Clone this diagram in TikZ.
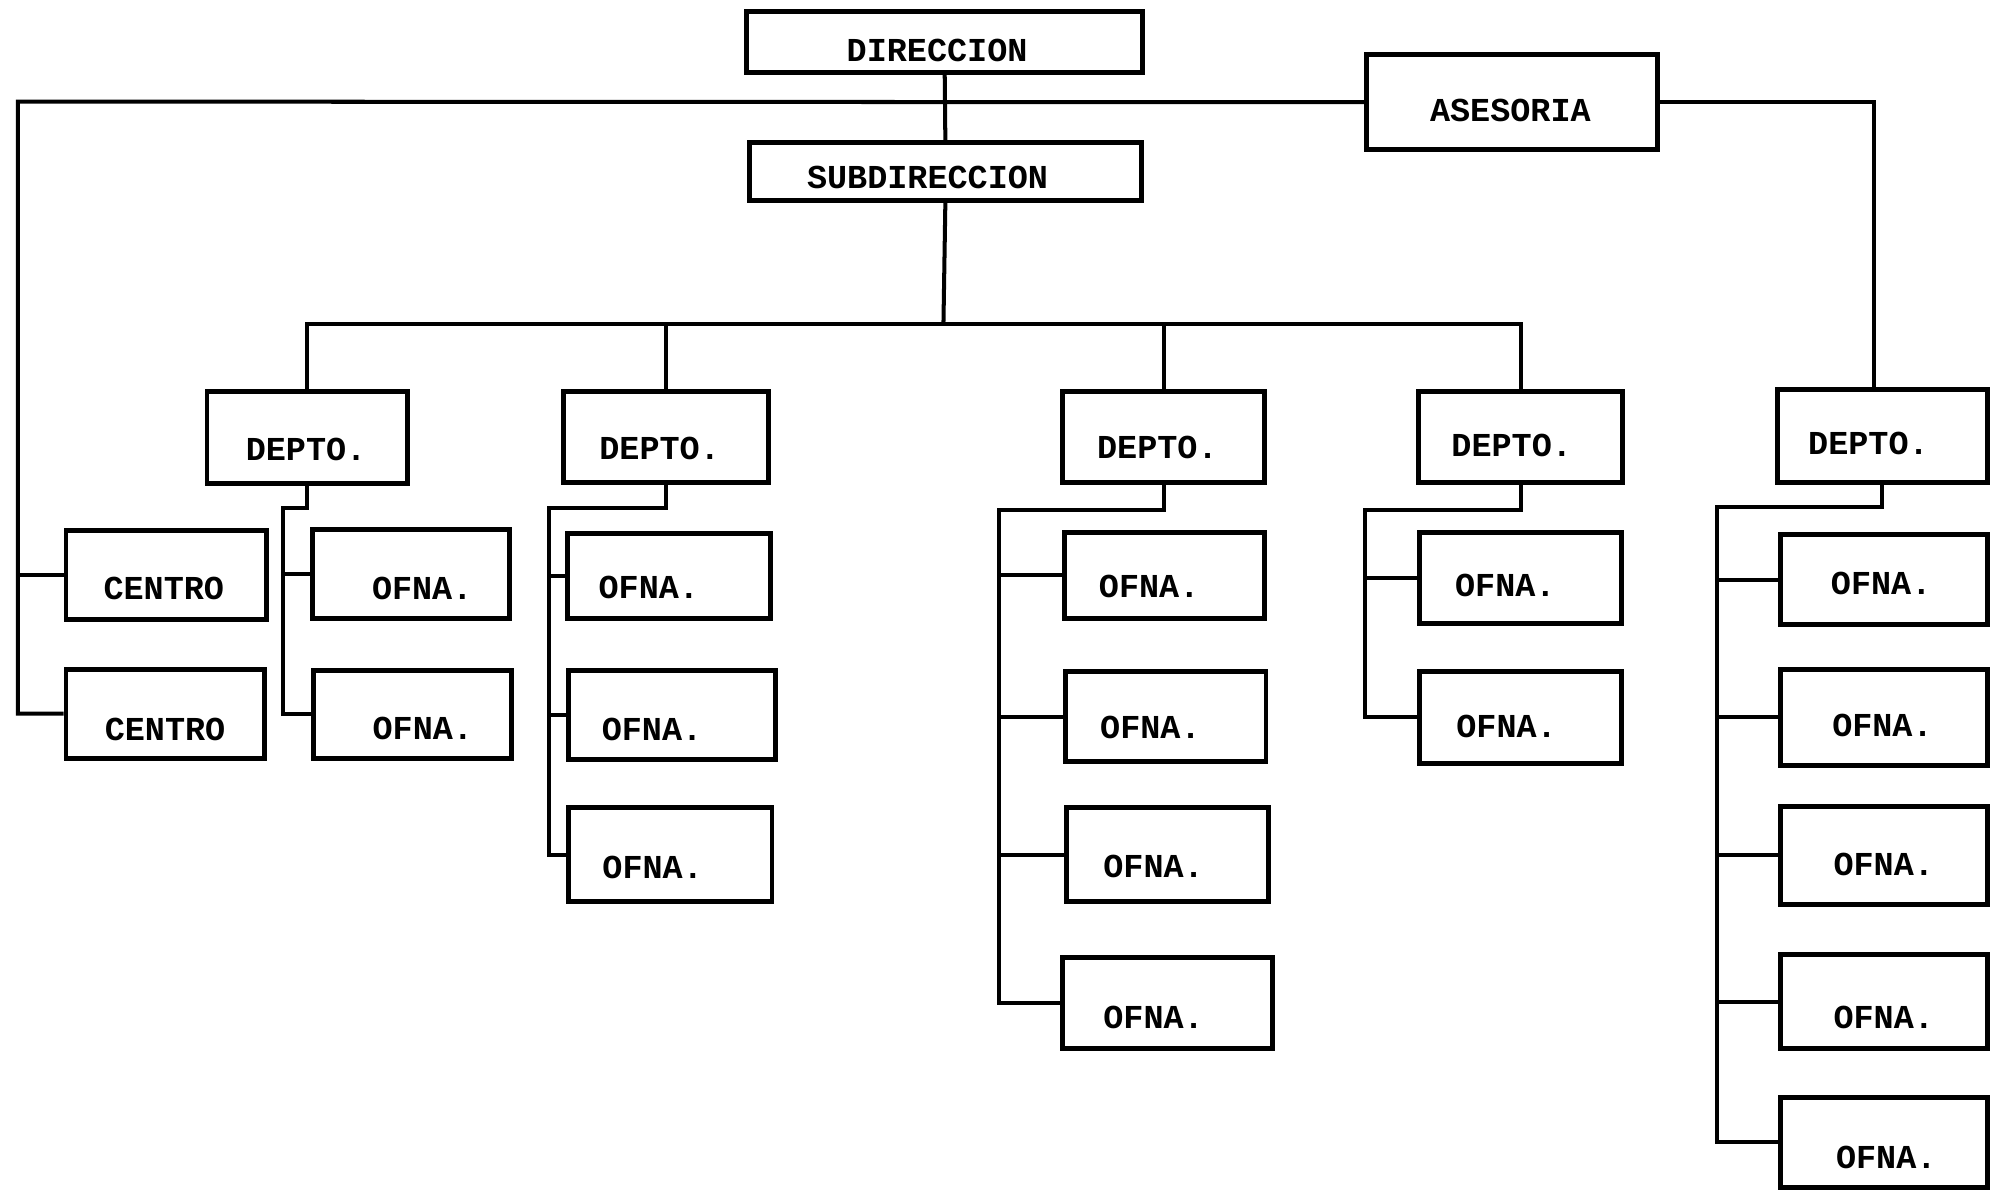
\documentclass[tikz,border=0pt]{standalone}
\usepackage{fontspec}
\newfontfamily\tw{Liberation Mono}
\newdimen\pxu \pxu=0.02cm
\tikzset{
  box/.style={draw=black, line width=2.2pt, fill=none, inner sep=0pt,
    text height=10pt, text depth=0pt,
    font=\tw\bfseries\fontsize{15}{18}\selectfont},
  conn/.style={draw=black, line width=1.8pt, line join=miter}
}
% name, x1, y1, x2, y2, text, text dx (px), text dy (px, down)
\newcommand\obox[8]{%
  \node[box, minimum width={(#4-#2)*0.02cm}, minimum height={(#5-#3)*0.02cm}]
    (#1) at ({(#2+#4)/2},{(#3+#5)/2})
    {\hbox to 0pt{\hss\kern#7\pxu\kern#7\pxu\lower#8\pxu\hbox{#6}\hss}};}
\begin{document}
\begin{tikzpicture}[x=0.02cm,y=-0.02cm]
\useasboundingbox (0,0) rectangle (1568,938);
\fill[white] (0,0) rectangle (1568,938);
% top level
\obox{dir}{588}{9}{900}{57}{DIRECCION}{-6}{7}
\obox{sub}{590}{112}{899}{158}{SUBDIRECCION}{-14}{5}
\obox{ase}{1076}{43}{1305}{118}{ASESORIA}{-1}{6}
% departments
\obox{d1}{163}{308}{321}{381}{DEPTO.}{-1}{9}
\obox{d2}{444}{308}{605}{380}{DEPTO.}{-5}{9}
\obox{d3}{837}{308}{996}{380}{DEPTO.}{-5}{8}
\obox{d4}{1117}{308}{1278}{380}{DEPTO.}{-7}{7}
\obox{d5}{1400}{307}{1565}{380}{DEPTO.}{-11}{6}
% centros
\obox{c1}{52}{418}{210}{488}{CENTRO}{-2}{10}
\obox{c2}{52}{527}{208}{597}{CENTRO}{0}{12}
% D1 offices
\obox{o11}{246}{417}{401}{487}{OFNA.}{9}{11}
\obox{o12}{247}{528}{403}{597}{OFNA.}{8}{11}
% D2 offices
\obox{o21}{447}{420}{607}{487}{OFNA.}{-16}{9}
\obox{o22}{448}{528}{611}{598}{OFNA.}{-16}{11}
\obox{o23}{448}{636}{608}{710}{OFNA.}{-14}{10}
% D3 offices
\obox{o31}{838}{419}{996}{487}{OFNA.}{-12}{9}
\obox{o32}{839}{529}{997}{600}{OFNA.}{-12}{8}
\obox{o33}{840}{636}{999}{710}{OFNA.}{-11}{9}
\obox{o34}{837}{754}{1002}{826}{OFNA.}{-11}{11}
% D4 offices
\obox{o41}{1118}{419}{1277}{491}{OFNA.}{-12}{6}
\obox{o42}{1118}{529}{1277}{601}{OFNA.}{-11}{7}
% D5 offices
\obox{o51}{1402}{421}{1565}{492}{OFNA.}{-2}{3}
\obox{o52}{1402}{527}{1565}{603}{OFNA.}{-1}{6}
\obox{o53}{1402}{635}{1565}{712}{OFNA.}{0}{7}
\obox{o54}{1402}{752}{1565}{826}{OFNA.}{0}{12}
\obox{o55}{1402}{864}{1565}{935}{OFNA.}{2}{12}
% coordinates
\coordinate (lcol) at (14,80);
\coordinate (bus) at (743,255);
\coordinate (t1) at (223,400);
\coordinate (t2) at (432,400);
\coordinate (t3) at (787,402);
\coordinate (t4) at (1075,402);
\coordinate (t5) at (1352,399);
% top connections
\draw[conn] (dir.south) -- (sub.north);
\draw[conn] (ase.west) -- (lcol) -- (lcol |- c2.west) -- (c2.west);
\draw[conn] (lcol |- c1.west) -- (c1.west);
\draw[conn] (ase.east) -| ([xshift=-0.14cm]d5.north);
% subdireccion bus
\draw[conn] (sub.south) -- (bus);
\draw[conn] (d1.north) -- (d1.north |- bus) -- (d4.north |- bus) -- (d4.north);
\draw[conn] (d2.north) -- (d2.north |- bus);
\draw[conn] (d3.north) -- (d3.north |- bus);
% D1
\draw[conn] (d1.south) |- (t1) -- (t1 |- o12.west) -- (o12.west);
\draw[conn] (t1 |- o11.west) -- (o11.west);
% D2
\draw[conn] (d2.south) |- (t2) -- (t2 |- o23.west) -- (o23.west);
\draw[conn] (t2 |- o21.west) -- (o21.west);
\draw[conn] (t2 |- o22.west) -- (o22.west);
% D3
\draw[conn] (d3.south) |- (t3) -- (t3 |- o34.west) -- (o34.west);
\draw[conn] (t3 |- o31.west) -- (o31.west);
\draw[conn] (t3 |- o32.west) -- (o32.west);
\draw[conn] (t3 |- o33.west) -- (o33.west);
% D4
\draw[conn] (d4.south) |- (t4) -- (t4 |- o42.west) -- (o42.west);
\draw[conn] (t4 |- o41.west) -- (o41.west);
% D5
\draw[conn] (d5.south) |- (t5) -- (t5 |- o55.west) -- (o55.west);
\draw[conn] (t5 |- o51.west) -- (o51.west);
\draw[conn] (t5 |- o52.west) -- (o52.west);
\draw[conn] (t5 |- o53.west) -- (o53.west);
\draw[conn] (t5 |- o54.west) -- (o54.west);
\end{tikzpicture}
\end{document}
